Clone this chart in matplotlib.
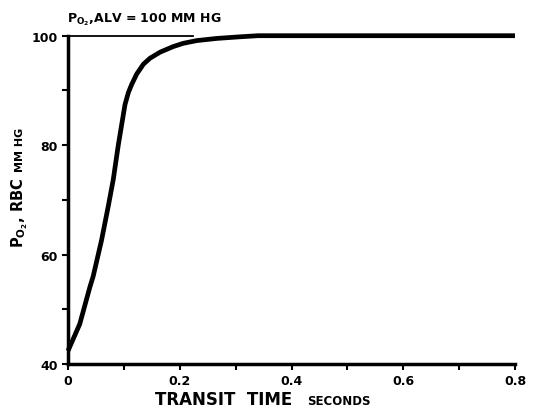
import matplotlib
matplotlib.use("Agg")
from matplotlib import pyplot as plt
from matplotlib.ticker import MultipleLocator

# red cell PO2 along the capillary
transit_time = [0.0, 0.021, 0.039, 0.045, 0.060, 0.072, 0.081, 0.090, 0.102, 0.108,
                0.114, 0.123, 0.135, 0.147, 0.165, 0.188, 0.206, 0.230, 0.266,
                0.308, 0.34, 0.4, 0.5, 0.6, 0.7, 0.8]
po2_rbc = [42.4, 47.3, 54.0, 56.0, 62.6, 68.8, 73.7, 80.0, 87.4, 89.6,
           91.1, 93.0, 94.8, 95.9, 97.0, 98.0, 98.6, 99.1, 99.5,
           99.8, 100, 100, 100, 100, 100, 100]

# alveolar PO2 reference line
alv_po2 = 100
alv_line_time = [0.0, 0.224]

x_ticks = [0, 0.2, 0.4, 0.6, 0.8]
x_tick_labels = ['0', '0.2', '0.4', '0.6', '0.8']
y_ticks = [40, 60, 80, 100]

plt.rcParams['font.family'] = 'DejaVu Sans'
plt.rcParams['font.weight'] = 'bold'
plt.rcParams['mathtext.fontset'] = 'dejavusans'
plt.rcParams['mathtext.default'] = 'bf'

fig = plt.figure(figsize=(5.46, 4.10), dpi=100)
ax = fig.add_axes([68/546, 1 - 365/410, (515 - 68)/546, (365 - 36.7)/410])

ax.plot(alv_line_time, [alv_po2, alv_po2], color='black', linewidth=1.3, clip_on=False)
ax.plot(transit_time, po2_rbc, color='black', linewidth=3.4,
        solid_joinstyle='round', solid_capstyle='butt', clip_on=False)

ax.set_xlim(0, 0.8)
ax.set_ylim(40, 100)
ax.set_xticks(x_ticks)
ax.set_xticklabels(x_tick_labels)
ax.set_yticks(y_ticks)
ax.xaxis.set_minor_locator(MultipleLocator(0.1))
ax.yaxis.set_minor_locator(MultipleLocator(10))

for side in ['top', 'right']:
    ax.spines[side].set_visible(False)
for side in ['left', 'bottom']:
    ax.spines[side].set_linewidth(2.5)

ax.tick_params(which='both', direction='out', length=4.5, width=1.5, pad=3,
               labelsize=9)
for lab in ax.get_xticklabels() + ax.get_yticklabels():
    lab.set_fontweight('bold')

# axis titles, built from pieces of different sizes
fig.text(155/546, 1 - 405/410, 'TRANSIT  TIME', fontsize=12, fontweight='bold',
         ha='left', va='baseline')
fig.text(307/546, 1 - 405/410, 'SECONDS', fontsize=8.5, fontweight='bold',
         ha='left', va='baseline')

fig.text(23/546, 1 - 248/410, r'$P_{O_2}$, RBC', fontsize=10.5, fontweight='bold',
         rotation=90, rotation_mode='anchor', ha='left', va='baseline')
fig.text(23/546, 1 - 172/410, 'MM HG', fontsize=8, fontweight='bold',
         rotation=90, rotation_mode='anchor', ha='left', va='baseline')

fig.text(67/546, 1 - 22.7/410, r'$P_{O_2}$,ALV = 100 MM HG', fontsize=9,
         fontweight='bold', ha='left', va='baseline')

fig.savefig('out.png', dpi=100)
